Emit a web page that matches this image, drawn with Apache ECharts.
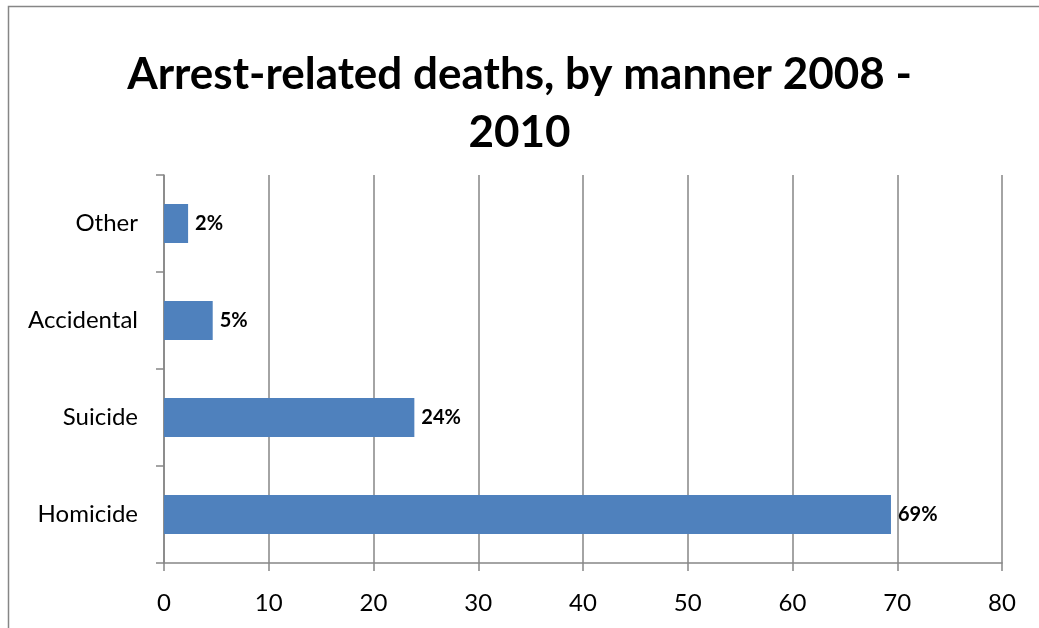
<!DOCTYPE html>
<html>
<head>
<meta charset="utf-8">
<script src="https://cdn.jsdelivr.net/npm/echarts@6/dist/echarts.min.js"></script>
<style>html,body{margin:0;padding:0;background:#fff}#c{width:1039px;height:628px}</style>
</head>
<body>
<div id="c"></div>
<script>
const titleText = 'Arrest-related deaths, by manner 2008 -\n2010';
const categories = ['Homicide', 'Suicide', 'Accidental', 'Other'];
const values = [69.4, 23.9, 4.65, 2.3];
const valueLabels = ['69%', '24%', '5%', '2%'];
const xTicks = [0, 10, 20, 30, 40, 50, 60, 70, 80];

const FONT = 'Lato, "Open Sans", sans-serif';
const GRAY = '#868686';
const chart = echarts.init(document.getElementById('c'));
chart.setOption({
  animation: false,
  backgroundColor: '#fff',
  title: {
    text: titleText,
    left: 'center',
    top: 41,
    textStyle: { fontFamily: FONT, fontSize: 44, fontWeight: 'bold', color: '#000', lineHeight: 58 }
  },
  graphic: [{
    type: 'rect', silent: true,
    shape: { x: 8.5, y: 6.5, width: 1200, height: 800 },
    style: { fill: 'none', stroke: GRAY, lineWidth: 1.5 }
  }],
  grid: { left: 164, right: 37, top: 175, bottom: 65, containLabel: false },
  xAxis: {
    type: 'value', min: xTicks[0], max: xTicks[xTicks.length - 1], interval: 10,
    axisLine: { show: true, lineStyle: { color: GRAY, width: 1.5 } },
    axisTick: { show: true, length: 8, lineStyle: { color: GRAY, width: 1.5 } },
    splitLine: { show: true, lineStyle: { color: GRAY, width: 1.5 } },
    axisLabel: { fontFamily: FONT, fontSize: 24, color: '#000', margin: 28 }
  },
  yAxis: {
    type: 'category', data: categories,
    axisLine: { show: true, lineStyle: { color: GRAY, width: 1.5 } },
    axisTick: { show: true, length: 8, alignWithLabel: false, lineStyle: { color: GRAY, width: 1.5 } },
    axisLabel: { fontFamily: FONT, fontSize: 24, color: '#000', margin: 26 }
  },
  series: [{
    type: 'bar', data: values, barCategoryGap: '60%',
    itemStyle: { color: '#4F81BD' },
    label: {
      show: true, position: 'right', distance: 7,
      fontFamily: FONT, fontSize: 20, fontWeight: 'bold', color: '#000',
      formatter: p => valueLabels[p.dataIndex]
    }
  }]
});
</script>
</body>
</html>
